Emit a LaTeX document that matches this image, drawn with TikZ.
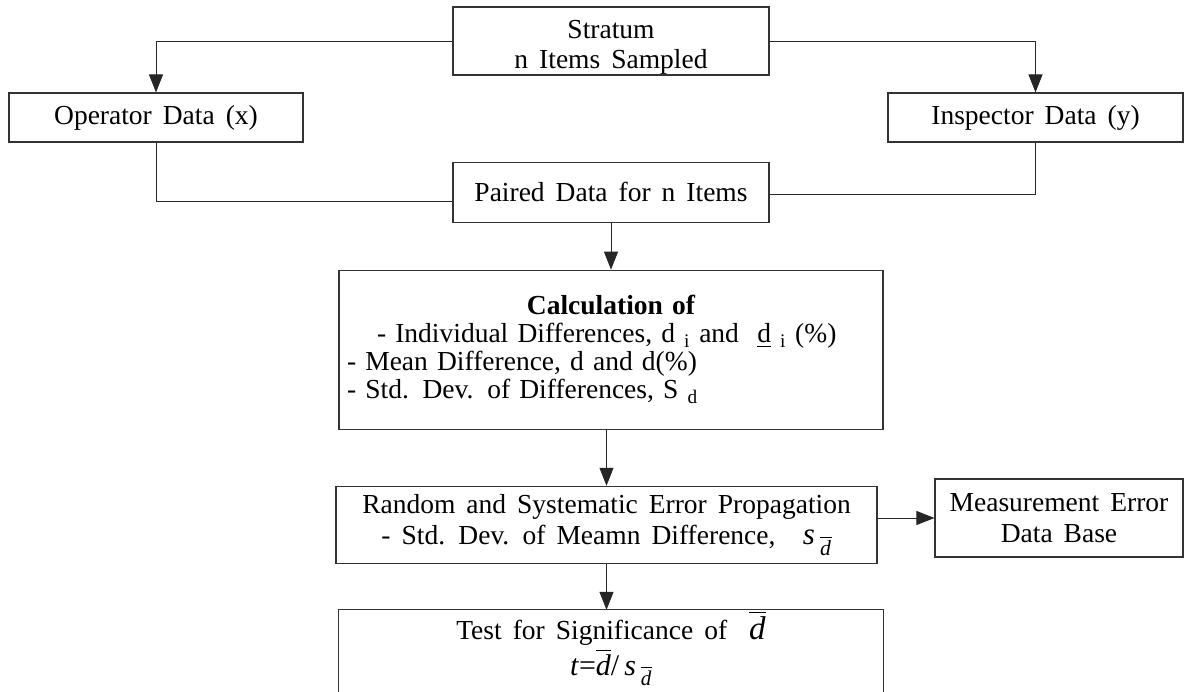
\documentclass[tikz,border=0pt]{standalone}
\usepackage{amsmath}
\usepackage{fontspec}
\setmainfont{Liberation Serif}[WordSpace=1.6]
\usetikzlibrary{arrows.meta,positioning}

% italic d with a bar, and s indexed by it
\newcommand{\dbar}{$\overline{\text{\itshape d}}$}
\newcommand{\sdbar}{\textit{s}\,$_{\overline{\text{\itshape d}}}$}

\begin{document}
\begin{tikzpicture}[
  x=1pt, y=-1pt,
  font=\fontsize{27.5}{28}\selectfont,
  box/.style={draw=black!80, line width=1.1pt, inner sep=0pt, align=center},
  link/.style={draw=black!85, line width=0.9pt},
  arr/.style={link, -{Triangle[length=18pt,width=14pt]}}
]
  \clip (0,0) rectangle (1185,691);

  % sampling and the two data sets
  \node[box, minimum width=316pt, minimum height=68pt] (strat) at (611,41) {\rule{0pt}{30pt}Stratum\\[2pt] n Items Sampled};
  \node[box, minimum width=294pt, minimum height=49pt] (oper) at (156,117.5) {Operator Data (x)};
  \node[box, minimum width=295pt, minimum height=49pt] (insp) at (1035.5,117.5) {Inspector Data (y)};
  \node[box, minimum width=316pt, minimum height=60pt, below=86pt of strat] (paired) {Paired Data for n Items};

  % analysis column
  \node[box, below=47pt of paired, text width=528pt, inner xsep=8pt, minimum height=159pt, align=left] (calc)
    {\makebox[528pt]{\bfseries Calculation of}\\
     \hspace*{30pt}- Individual Differences, d~\textsubscript{i} and~~\underline{d}~\textsubscript{i} (\%)\\
     - Mean Difference, d and d(\%)\\
     - Std. Dev. of Differences, S~\textsubscript{d}};
  \node[box, below=56pt of calc, xshift=-4.5pt, minimum width=541pt, minimum height=77pt] (rand)
    {Random and Systematic Error Propagation\\[3pt]
     - Std. Dev. of Meamn Difference,\quad{\fontsize{31}{31}\selectfont\sdbar}};
  \node[box, minimum width=248pt, minimum height=78pt] (medb) at (1059,518) {Measurement Error\\[3pt] Data Base};
  % last box runs on past the page edge
  \node[box, draw=none, below=46pt of rand, xshift=4.5pt, minimum width=544pt, minimum height=76pt] (test)
    {Test for Significance of~~{\fontsize{33}{33}\selectfont\dbar}\\[3pt]
     {\fontsize{30}{30}\selectfont\textit{t}{=}\dbar/\,\sdbar}};
  \draw[draw=black!80, line width=1.1pt] (test.north west) rectangle ([yshift=-20pt]test.south east);

  % connectors
  \draw[arr] (strat.west) -| (oper.north);
  \draw[arr] (strat.east) -| (insp.north);
  \draw[link] (oper.south) |- ([yshift=-9pt]paired.west);
  \draw[link] (insp.south) |- ([yshift=-2pt]paired.east);
  \draw[arr] (paired) -- (calc);
  \draw[arr] (calc.south -| rand.north) -- (rand.north);
  \draw[arr] (rand.south) -- (rand.south |- test.north);
  \draw[arr] (rand.east |- medb.west) -- (medb.west);
\end{tikzpicture}
\end{document}
